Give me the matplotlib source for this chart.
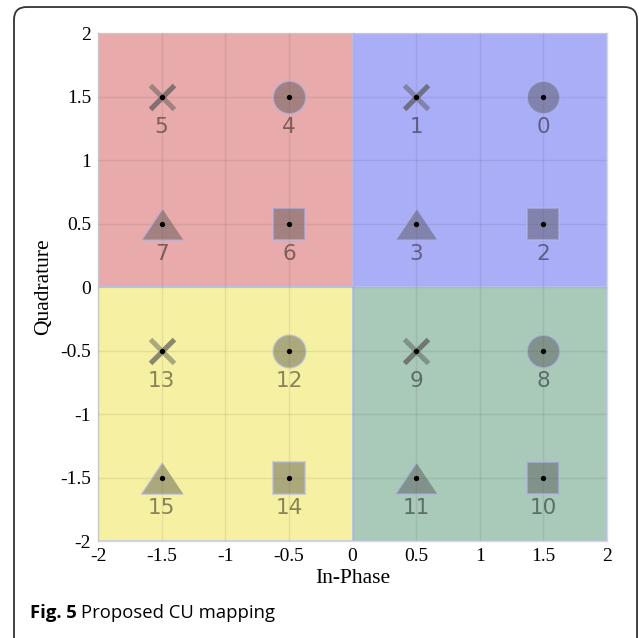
import matplotlib
matplotlib.use("Agg")
import matplotlib.pyplot as plt
from matplotlib.patches import Rectangle, FancyBboxPatch

# constellation points: in-phase / quadrature, symbol index and marker shape
sym_i = [1.5, 0.5, 1.5, 0.5, -0.5, -1.5, -0.5, -1.5,
         1.5, 0.5, 1.5, 0.5, -0.5, -1.5, -0.5, -1.5]
sym_q = [1.5, 1.5, 0.5, 0.5, 1.5, 1.5, 0.5, 0.5,
         -0.5, -0.5, -1.5, -1.5, -0.5, -0.5, -1.5, -1.5]
sym_id = list(range(16))
shapes = ['o', 'x', 's', '^'] * 4

# quadrant regions (lower-left corner) and fill colours
quad_x0 = [0, -2, -2, 0]
quad_y0 = [0, 0, -2, -2]
quad_col = ['#aaaef7', '#e8aaaa', '#f5f0a2', '#a9c9b9']

ticks = [-2, -1.5, -1, -0.5, 0, 0.5, 1, 1.5, 2]
tick_txt = ['-2', '-1.5', '-1', '-0.5', '0', '0.5', '1', '1.5', '2']

plt.rcParams['axes.unicode_minus'] = False

fig = plt.figure(figsize=(6.39, 6.38), dpi=100)
ax = fig.add_axes([0.1534, 0.152, 0.7966, 0.796])

for x0, y0, c in zip(quad_x0, quad_y0, quad_col):
    ax.add_patch(Rectangle((x0, y0), 2, 2, facecolor=c,
                           edgecolor=(0.72, 0.78, 0.95, 0.8), linewidth=1.2, zorder=0))

# triangle a bit wider than tall
tri = [(0, 0.75), (-1, -0.75), (1, -0.75)]
face = (0.3, 0.3, 0.3, 0.44)
edge = (0.7, 0.72, 0.92, 0.6)

for x, y, n, m in zip(sym_i, sym_q, sym_id, shapes):
    if m == 'x':
        ax.plot(x, y, marker='x', ms=17, mew=3.6, color=face, zorder=3)
        ax.plot(x, y, marker=[(-1, -1), (1, 1)], ms=17, mew=3.6,
                color=(0.3, 0.3, 0.3, 0.35), zorder=3)
    elif m == '^':
        ax.plot(x, y, marker=tri, ms=30, mfc=face, mec=edge, mew=1.2, zorder=3)
    elif m == 's':
        ax.plot(x, y, marker='s', ms=23.5, mfc=face, mec=edge, mew=1.5, zorder=3)
    else:
        ax.plot(x, y, marker='o', ms=23.5, mfc=face, mec=edge, mew=1.2, zorder=3)
    ax.plot(x, y, marker='o', ms=2.8, color='black', zorder=4)
    ax.text(x, y - 0.16, str(n), ha='center', va='top', fontsize=15.5,
            family='DejaVu Sans', color=(0, 0, 0, 0.45), zorder=4)

ax.set_xlim(-2, 2)
ax.set_ylim(-2, 2)
ax.set_xticks(ticks)
ax.set_yticks(ticks)
ax.set_xticklabels(tick_txt, family='Liberation Serif', fontsize=14)
ax.set_yticklabels(tick_txt, family='Liberation Serif', fontsize=14)
ax.tick_params(length=0, pad=5)
ax.grid(True, color='black', alpha=0.07, linewidth=1)
ax.set_axisbelow(False)
for s in ax.spines.values():
    s.set_color('#d8d8d8')
    s.set_linewidth(1)

ax.set_xlabel('In-Phase', family='Liberation Serif', fontsize=15.5, labelpad=3)
ax.set_ylabel('Quadrature', family='Liberation Serif', fontsize=15.5, labelpad=5)

# caption frame
frame = FancyBboxPatch((0.0219, -0.05), 0.975, 1.039,
                       boxstyle='round,pad=0,rounding_size=0.02',
                       transform=fig.transFigure, facecolor='none',
                       edgecolor='#333333', linewidth=1.3)
fig.patches.append(frame)

cap = fig.text(0.047, 0.031, 'Fig. 5', family='Open Sans', fontweight='bold',
               fontsize=13.3, va='baseline')
fig.canvas.draw()
bb = cap.get_window_extent()
fig.text(bb.x1 / fig.bbox.width + 0.006, 0.031, 'Proposed CU mapping',
         family='Open Sans', fontsize=13.3, va='baseline')

fig.savefig('out.png', dpi=100)
